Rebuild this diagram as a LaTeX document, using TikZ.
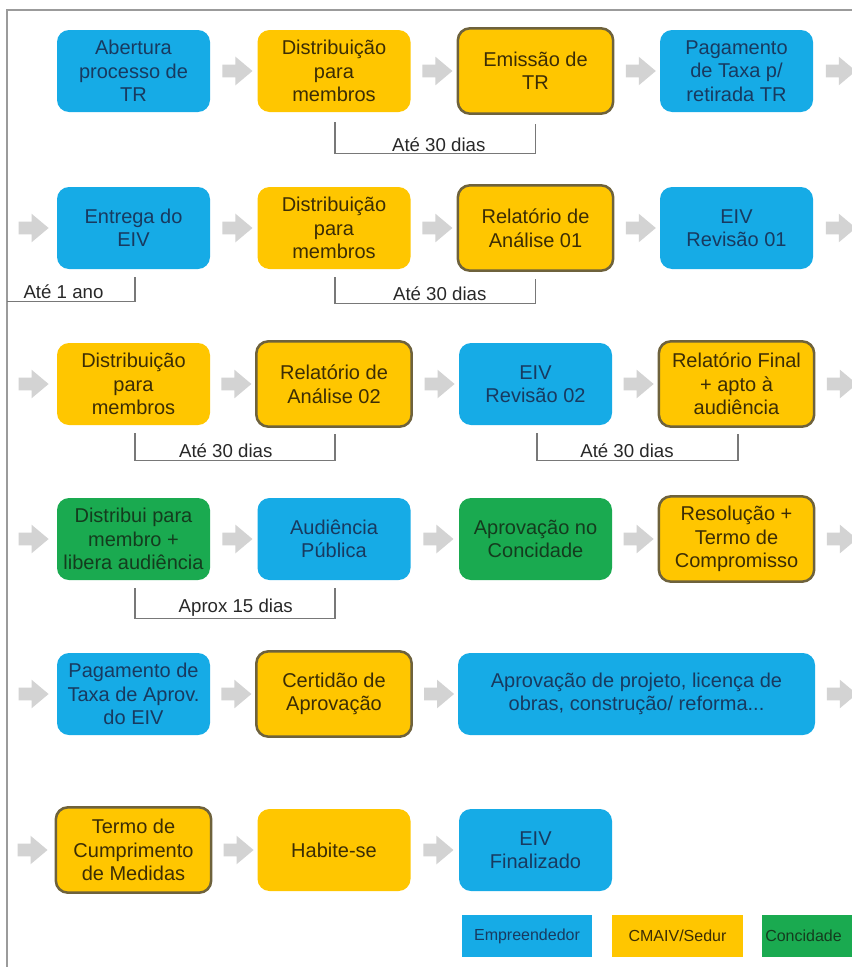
\documentclass[tikz,border=0pt]{standalone}
\usepackage{fontspec}
\setmainfont{Liberation Sans}
\usetikzlibrary{calc,shapes.arrows}
\definecolor{cblue}{RGB}{22,171,230}
\definecolor{cyel}{RGB}{255,198,0}
\definecolor{cgrn}{RGB}{26,170,80}
\definecolor{cbord}{RGB}{110,98,60}
\definecolor{tblue}{RGB}{24,58,96}
\definecolor{tyel}{RGB}{60,45,5}
\definecolor{tgrn}{RGB}{20,60,30}
\definecolor{agray}{RGB}{211,211,211}
\definecolor{frmgray}{RGB}{155,155,155}
\definecolor{brkgray}{RGB}{120,120,120}
\definecolor{lblcol}{RGB}{40,40,40}
\tikzset{
  box/.style={rounded corners=9pt, minimum width=114.75pt, minimum height=61.5pt,
    align=center, inner sep=0pt, font=\fontsize{15pt}{17.6pt}\selectfont},
  bluebox/.style={box, fill=cblue, text=tblue},
  yelbox/.style={box, fill=cyel, text=tyel},
  grnbox/.style={box, fill=cgrn, text=tgrn},
  bordbox/.style={yelbox, draw=cbord, line width=1.9pt, minimum width=116.5pt, minimum height=64pt},
  garrow/.style={single arrow, fill=agray, draw=none, inner sep=0pt, text height=9pt, text depth=0pt,
    minimum height=22.5pt, single arrow head extend=6pt, single arrow tip angle=80},
  brk/.style={draw=brkgray, line width=0.8pt},
  lbl/.style={text=lblcol, inner sep=0pt, font=\fontsize{14pt}{16pt}\selectfont},
  leg/.style={inner sep=0pt, minimum height=31.5pt, font=\fontsize{12pt}{14pt}\selectfont},
  frm/.style={draw=frmgray, line width=1.1pt}
}
\begin{document}
\begin{tikzpicture}[x=0.75pt,y=-0.75pt]
\useasboundingbox (0,0) rectangle (851,967);
% frame
\coordinate (fbl) at (7,975);
\coordinate (ftl) at (7,10);
\coordinate (ftr) at (860,10);
\draw[frm] (fbl) -- (ftl) -- (ftr);

% row 1
\node[bluebox] (b11) at (133.5,71) {Abertura\\processo de\\TR};
\node[yelbox]  (b12) at (334,71) {Distribuição\\para\\membros};
\node[bordbox] (b13) at (535.5,71) {Emissão de\\TR};
\node[bluebox] (b14) at (736.5,71) {Pagamento\\de Taxa p/\\retirada TR};
\coordinate (r1e) at (861,71);
% row 2
\coordinate (r2s) at (3,228);
\node[bluebox] (b21) at (133.5,228) {Entrega do\\EIV};
\node[yelbox]  (b22) at (334,228) {Distribuição\\para\\membros};
\node[bordbox] (b23) at (535.5,228) {Relatório de\\Análise 01};
\node[bluebox] (b24) at (736.5,228) {EIV\\Revisão 01};
\coordinate (r2e) at (861,228);
% row 3
\coordinate (r3s) at (3,384);
\node[yelbox]  (b31) at (133.5,384) {Distribuição\\para\\membros};
\node[bordbox] (b32) at (334,384) {Relatório de\\Análise 02};
\node[bluebox] (b33) at (535.5,384) {EIV\\Revisão 02};
\node[bordbox] (b34) at (736.5,384) {Relatório Final\\+ apto à\\audiência};
\coordinate (r3e) at (861,384);
% row 4
\coordinate (r4s) at (3,539);
\node[grnbox]  (b41) at (133.5,539) {Distribui para\\membro +\\libera audiência};
\node[bluebox] (b42) at (334,539) {Audiência\\Pública};
\node[grnbox]  (b43) at (535.5,539) {Aprovação no\\Concidade};
\node[bordbox] (b44) at (736.5,539) {Resolução +\\Termo de\\Compromisso};
\coordinate (r4e) at (861,539);
% row 5
\coordinate (r5s) at (3,694);
\node[bluebox] (b51) at (133.5,694) {Pagamento de\\Taxa de Aprov.\\do EIV};
\node[bordbox] (b52) at (334,694) {Certidão de\\Aprovação};
\node[bluebox, minimum width=267.75pt] (b53) at (636.5,694) {Aprovação de projeto, licença de\\obras, construção/ reforma...};
\coordinate (r5e) at (861,694);
% row 6
\coordinate (r6s) at (3,850);
\node[bordbox] (b61) at (133.5,850) {Termo de\\Cumprimento\\de Medidas};
\node[yelbox]  (b62) at (334,850) {Habite-se};
\node[bluebox] (b63) at (535.5,850) {EIV\\Finalizado};

% gray arrows
\foreach \a/\b in {b11/b12,b12/b13,b13/b14,b14/r1e,
                   r2s/b21,b21/b22,b22/b23,b23/b24,b24/r2e,
                   r3s/b31,b31/b32,b32/b33,b33/b34,b34/r3e,
                   r4s/b41,b41/b42,b42/b43,b43/b44,b44/r4e,
                   r5s/b51,b51/b52,b52/b53,b53/r5e,
                   r6s/b61,b61/b62,b62/b63}
  \path (\a.east) -- (\b.west) node[midway, garrow] {};

% brackets
\draw[brk] ($(b12.south)+(1,10)$) -- ++(0,31) -| ($(b13.south)+(0,9)$);
\node[lbl] (t1) at ($(b12.south)!0.5!(b13.south)+(4,31)$) {Até 30 dias};

\draw[brk] ($(b21.south)+(1.5,8)$) -- ++(0,24) -- ++(-128.5,0);
\node[lbl] (t2) at ($(b21.south)+(-70,22)$) {Até 1 ano};

\draw[brk] ($(b22.south)+(1,8)$) -- ++(0,26) -| ($(b23.south)+(0,7)$);
\node[lbl] (t3) at ($(b22.south)!0.5!(b23.south)+(5,23)$) {Até 30 dias};

\draw[brk] ($(b31.south)+(1.5,8)$) -- ++(0,27) -| ($(b32.south)+(1,6)$);
\node[lbl] (t4) at ($(b31.south)!0.5!(b32.south)+(-8,24)$) {Até 30 dias};

\draw[brk] ($(b33.south)+(1.5,8)$) -- ++(0,27) -| ($(b34.south)+(1.5,6)$);
\node[lbl] (t5) at ($(b33.south)!0.5!(b34.south)+(-9,24)$) {Até 30 dias};

\draw[brk] ($(b41.south)+(1.5,8)$) -- ++(0,30) -| ($(b42.south)+(1,8)$);
\node[lbl] (t6) at ($(b41.south)!0.5!(b42.south)+(2,27)$) {Aprox 15 dias};

% legend
\node[leg, fill=cblue, text=tblue, minimum width=97.5pt] (lg1) at (527,936) {Empreendedor};
\node[leg, fill=cyel, text=tyel, minimum width=98.25pt] (lg2) at (677.5,936) {CMAIV/Sedur};
\node[leg, fill=cgrn, text=tgrn, anchor=west, inner xsep=2.25pt, text width=67.5pt, align=left] (lg3) at (762,936) {Concidade};
\end{tikzpicture}
\end{document}
